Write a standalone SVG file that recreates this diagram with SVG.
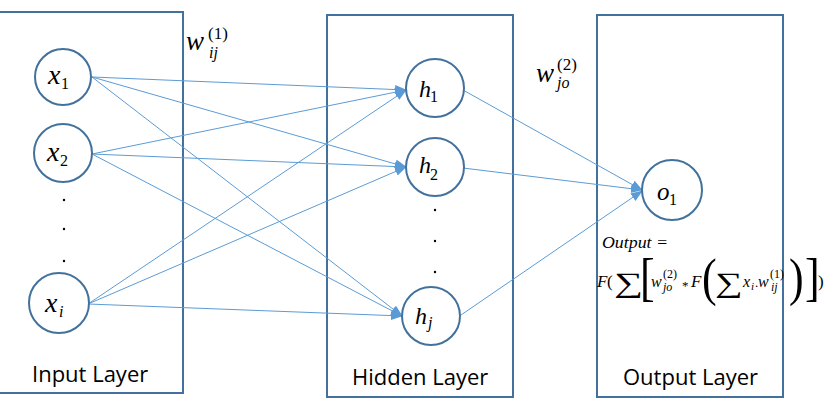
<svg xmlns="http://www.w3.org/2000/svg" width="834" height="400" viewBox="0 0 834 400">
<defs>
<style>
.layer{fill:none;stroke:#41719c;stroke-width:2}
.node{fill:#fff;stroke:#41719c;stroke-width:2}
.conn{stroke:#5b9bd5;stroke-width:1;fill:none}
.m{font-family:"Liberation Serif","DejaVu Serif",serif;font-style:italic;fill:#000}
.n{font-family:"Liberation Serif","DejaVu Serif",serif;font-style:normal;fill:#000}
.lbl{font-family:"Open Sans","DejaVu Sans",sans-serif;font-size:22px;fill:#000}
.dot{fill:#000}
</style>
<marker id="arr" markerWidth="12" markerHeight="10" refX="11" refY="4.5" orient="auto" markerUnits="userSpaceOnUse">
<path d="M0,0 L12,4.5 L0,9 Z" fill="#5b9bd5"/>
</marker>
</defs>
<rect width="834" height="400" fill="#fff"/>

<g id="input-layer">
<rect class="layer" x="-5" y="12" width="188" height="381"/>
<text class="lbl" x="32" y="382">Input Layer</text>
<circle class="dot" cx="64" cy="200" r="1.2"/>
<circle class="dot" cx="64" cy="229" r="1.2"/>
<circle class="dot" cx="64" cy="261" r="1.2"/>
</g>
<g id="hidden-layer">
<rect class="layer" x="327" y="15" width="186" height="382"/>
<text class="lbl" x="352" y="385">Hidden Layer</text>
<circle class="dot" cx="435" cy="210" r="1.2"/>
<circle class="dot" cx="435" cy="241" r="1.2"/>
<circle class="dot" cx="435" cy="272" r="1.2"/>
</g>
<g id="output-layer">
<rect class="layer" x="597" y="15" width="186" height="382"/>
<text class="lbl" x="623" y="385">Output Layer</text>
</g>

<g id="connectors">
<line class="conn" x1="92" y1="77" x2="406" y2="90" marker-end="url(#arr)"/>
<line class="conn" x1="92" y1="77" x2="406" y2="167" marker-end="url(#arr)"/>
<line class="conn" x1="92" y1="77" x2="402" y2="316" marker-end="url(#arr)"/>
<line class="conn" x1="92" y1="154" x2="406" y2="90" marker-end="url(#arr)"/>
<line class="conn" x1="92" y1="154" x2="406" y2="167" marker-end="url(#arr)"/>
<line class="conn" x1="92" y1="154" x2="402" y2="316" marker-end="url(#arr)"/>
<line class="conn" x1="88" y1="304" x2="406" y2="90" marker-end="url(#arr)"/>
<line class="conn" x1="88" y1="304" x2="406" y2="167" marker-end="url(#arr)"/>
<line class="conn" x1="88" y1="304" x2="402" y2="316" marker-end="url(#arr)"/>
<line class="conn" x1="463" y1="90" x2="642" y2="190" marker-end="url(#arr)"/>
<line class="conn" x1="463" y1="168" x2="642" y2="190" marker-end="url(#arr)"/>
<line class="conn" x1="461" y1="315" x2="642" y2="191" marker-end="url(#arr)"/>
</g>

<g id="x1">
<circle class="node" cx="63" cy="77" r="28"/>
<text class="m" x="48" y="84" font-size="28">x</text>
<text class="n" x="61" y="89" font-size="16">1</text>
</g>
<g id="x2">
<circle class="node" cx="63" cy="153" r="29"/>
<text class="m" x="47" y="161" font-size="28">x</text>
<text class="n" x="60" y="166" font-size="16">2</text>
</g>
<g id="xi">
<circle class="node" cx="59" cy="303" r="30"/>
<text class="m" x="45" y="312" font-size="28">x</text>
<text class="m" x="59" y="317" font-size="16">i</text>
</g>
<g id="h1">
<circle class="node" cx="435" cy="88" r="29"/>
<text class="m" x="419" y="97" font-size="24">h</text>
<text class="n" x="430" y="102" font-size="16">1</text>
</g>
<g id="h2">
<circle class="node" cx="435" cy="167" r="29"/>
<text class="m" x="419" y="173" font-size="24">h</text>
<text class="n" x="430" y="180" font-size="16">2</text>
</g>
<g id="hj">
<circle class="node" cx="431" cy="316" r="29"/>
<text class="m" x="415" y="324" font-size="24">h</text>
<text class="m" x="428" y="328" font-size="16">j</text>
</g>
<g id="o1">
<circle class="node" cx="672" cy="190" r="30"/>
<text class="m" x="657" y="200" font-size="25">o</text>
<text class="n" x="669" y="205" font-size="16">1</text>
</g>

<g id="weight-labels">
<text class="m" x="186" y="50" font-size="27">w</text>
<text class="n" x="208" y="39" font-size="17">(1)</text>
<text class="m" x="209" y="58" font-size="16">ij</text>
<text class="m" x="536" y="82" font-size="27">w</text>
<text class="n" x="557" y="70" font-size="17">(2)</text>
<text class="m" x="557" y="88" font-size="16">jo</text>
</g>

<g id="formula">
<text class="m" x="602" y="248" font-size="16" textLength="66" lengthAdjust="spacingAndGlyphs">Output =</text>
<text class="m" x="597" y="287" font-size="17">F</text>
<text class="n" x="607" y="287" font-size="17">(</text>
<text class="n" font-size="28" transform="translate(614,292) scale(1.45,1)">∑</text>
<text class="n" font-size="44" transform="translate(640,295) scale(1,1.2)">[</text>
<text class="m" x="651" y="287" font-size="16">w</text>
<text class="n" x="663" y="278" font-size="12">(2)</text>
<text class="m" x="663" y="291" font-size="12">jo</text>
<text class="n" x="682" y="290" font-size="13">*</text>
<text class="m" x="691" y="287" font-size="17">F</text>
<text class="n" font-size="44" transform="translate(702,295) scale(1,1.2)">(</text>
<text class="n" font-size="28" transform="translate(715,292) scale(1.38,1)">∑</text>
<text class="m" x="743" y="287" font-size="16">x</text>
<text class="m" x="751" y="290" font-size="11">i</text>
<text class="n" x="755" y="287" font-size="13">.</text>
<text class="m" x="758" y="287" font-size="16">w</text>
<text class="n" x="770" y="278" font-size="12">(1)</text>
<text class="m" x="771" y="291" font-size="12">ij</text>
<text class="n" font-size="44" transform="translate(789,295) scale(1,1.2)">)</text>
<text class="n" font-size="44" transform="translate(805,295) scale(1,1.2)">]</text>
<text class="n" x="818" y="287" font-size="17">)</text>
</g>
</svg>
